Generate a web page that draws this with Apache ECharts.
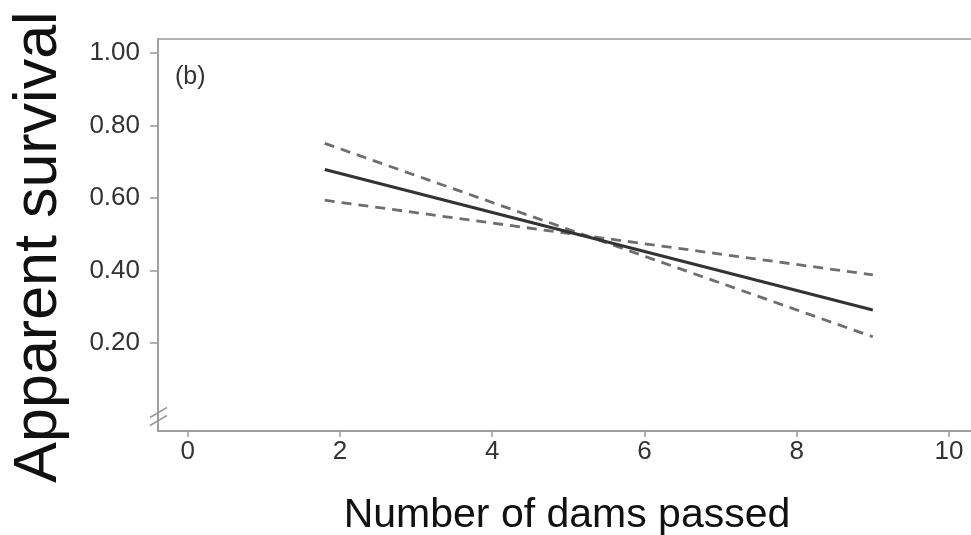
<!DOCTYPE html>
<html>
<head>
<meta charset="utf-8">
<script src="https://cdn.jsdelivr.net/npm/echarts@6/dist/echarts.min.js"></script>
<style>
  html, body { margin: 0; padding: 0; background: #fff; }
  #chart { width: 971px; height: 535px; }
</style>
</head>
<body>
<div id="chart"></div>
<script>
// values
const dams = [1.8, 9];
const survival = [0.679, 0.291];
const ciA = [0.751, 0.217];
const ciB = [0.594, 0.388];
const xTicks = [0, 2, 4, 6, 8, 10];
const yTicks = [0.2, 0.4, 0.6, 0.8, 1.0];

const pairs = (xs, ys) => xs.map((x, i) => [x, ys[i]]);

let chart = echarts.init(document.getElementById('chart'));

let dashed = {
  type: 'line',
  symbol: 'none',
  silent: true,
  lineStyle: { color: '#6e6e6e', width: 2.8, type: [10, 7] }
};

let option = {
  animation: false,
  textStyle: { fontFamily: 'Liberation Sans, Arial, sans-serif' },
  title: {
    text: '(b)',
    left: 170,
    top: 60,
    textStyle: { fontSize: 25, fontWeight: 'normal', color: '#333' }
  },
  grid: {
    left: 158, top: 39, right: -5, bottom: 104,
    containLabel: false,
    outerBoundsMode: 'none',
    show: true, borderColor: '#999', borderWidth: 1.5
  },
  xAxis: {
    type: 'value',
    min: -0.39,
    max: 10.355,
    name: 'Number of dams passed',
    nameLocation: 'middle',
    nameGap: 64,
    nameTextStyle: { fontSize: 41, color: '#111' },
    axisLine: { show: true, onZero: false, lineStyle: { color: '#999', width: 1.5 } },
    axisTick: { show: true, customValues: xTicks, length: 6, lineStyle: { color: '#999', width: 1.5 } },
    axisLabel: { customValues: xTicks, fontSize: 26, color: '#333', margin: 8 },
    splitLine: { show: false }
  },
  yAxis: {
    type: 'value',
    min: -0.043,
    max: 1.039,
    name: 'Apparent survival',
    nameLocation: 'middle',
    nameGap: 88,
    nameTextStyle: { fontSize: 61, color: '#111', padding: [0, 24, 0, 0] },
    axisLine: { show: true, onZero: false, lineStyle: { color: '#999', width: 1.5 } },
    axisTick: { show: true, customValues: yTicks, length: 8, lineStyle: { color: '#999', width: 1.5 } },
    axisLabel: {
      customValues: yTicks, fontSize: 26, color: '#333', margin: 18,
      formatter: v => v.toFixed(2)
    },
    splitLine: { show: false }
  },
  series: [
    Object.assign({}, dashed, { data: pairs(dams, ciA) }),
    Object.assign({}, dashed, { data: pairs(dams, ciB) }),
    {
      type: 'line',
      symbol: 'none',
      silent: true,
      data: pairs(dams, survival),
      lineStyle: { color: '#333', width: 3 }
    }
  ]
};

chart.setOption(option);

// axis break marks "//" near the bottom of the y axis
let p = chart.convertToPixel({ gridIndex: 0 }, [-0.39, -0.003]);
let brk = [-4, 4].map(dy => ({
  type: 'line',
  shape: { x1: p[0] - 8, y1: p[1] + dy + 5, x2: p[0] + 9, y2: p[1] + dy - 5 },
  style: { stroke: '#999', lineWidth: 1.5 }
}));
chart.setOption({ graphic: brk });
</script>
</body>
</html>
